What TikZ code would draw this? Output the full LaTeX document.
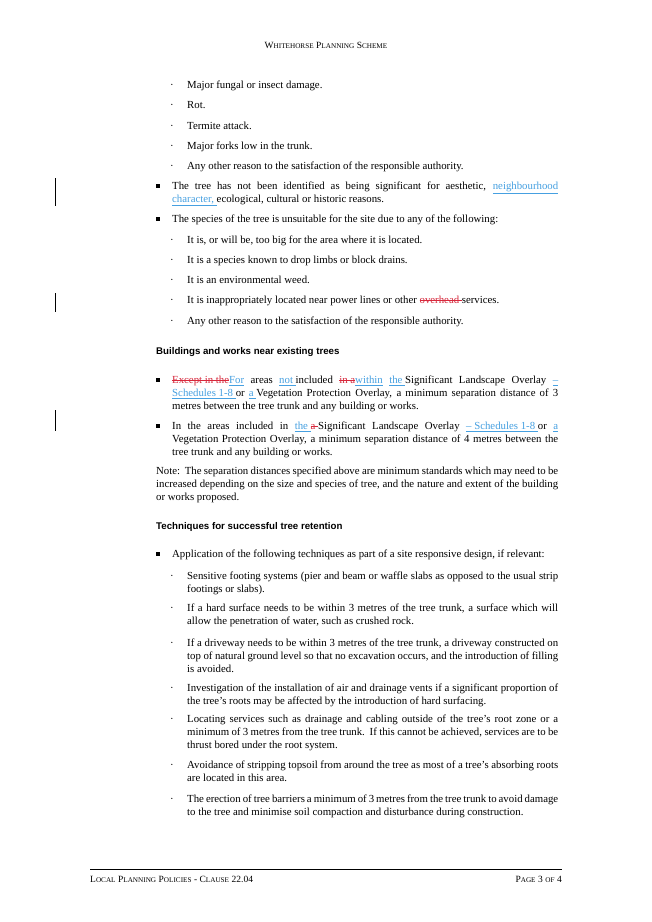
\documentclass[tikz,border=0pt]{standalone}
\usepackage{fontspec}
\setmainfont{Liberation Serif}
\newfontfamily\hsans{Liberation Sans}
\definecolor{ins}{RGB}{70,160,225}
\definecolor{del}{RGB}{215,40,60}
\newcommand{\ins}[1]{{\color{ins}\underline{#1}}}
\newcommand{\del}[1]{{\color{del}\setbox0\hbox{#1}\rlap{\rule[0.3em]{\wd0}{0.4pt}}\box0}}
\newcommand{\B}[1]{{\fontsize{9.5}{11}\selectfont #1}}
\newcommand{\s}[1]{{\fontsize{7.2}{11}\selectfont #1}}
\tikzset{
  para/.style={anchor=base west,inner sep=0pt,align=justify,font=\fontsize{10.8}{13}\selectfont},
  mainp/.style={para,text width=386pt},
  subp/.style={para,text width=371pt},
  notep/.style={para,text width=402pt},
  dot/.style={anchor=base,inner sep=0pt,font=\fontsize{10.8}{13}\selectfont},
  sq/.style={anchor=center,fill=black,minimum size=3.6pt,inner sep=0pt},
  head/.style={anchor=base west,inner sep=0pt,font=\hsans\bfseries\fontsize{9.7}{12}\selectfont},
  bar/.style={line width=0.7pt},
  hf/.style={inner sep=0pt}
}
\newcommand{\sub}[3]{\node[dot] (d#1) at (172,-#2-3.5) {·};\node[subp] (s#1) at (187,-#2-3.5) {#3};}
\newcommand{\mb}[3]{\node[sq] (q#1) at (158,-#2) {};\node[mainp] (m#1) at (172,-#2-3.5) {#3};}
\begin{document}
\begin{tikzpicture}[x=1pt,y=1pt]
\useasboundingbox[fill=white] (0,0) rectangle (652,-922);
\node[hf,anchor=base] (hdr) at (326,-48) {\B{W}\s{HITEHORSE} \B{P}\s{LANNING} \B{S}\s{CHEME}};
\sub{1}{85}{Major fungal or insect damage.}
\sub{2}{105}{Rot.}
\sub{3}{126}{Termite attack.}
\sub{4}{146}{Major forks low in the trunk.}
\sub{5}{166}{Any other reason to the satisfaction of the responsible authority.}
\mb{1}{186}{The tree has not been identified as being significant for aesthetic, \ins{neighbourhood}\linebreak\ins{character,\ }ecological, cultural or historic reasons.}
\mb{2}{219}{The species of the tree is unsuitable for the site due to any of the following:}
\sub{6}{240}{It is, or will be, too big for the area where it is located.}
\sub{7}{260}{It is a species known to drop limbs or block drains.}
\sub{8}{280}{It is an environmental weed.}
\sub{9}{300}{It is inappropriately located near power lines or other \del{overhead }services.}
\sub{10}{321}{Any other reason to the satisfaction of the responsible authority.}
\node[head] (h1) at (156,-351-3.5) {Buildings and works near existing trees};
\mb{3}{380}{\del{Except in the}\ins{For} areas \ins{not\ }included \del{in a}\ins{within} \ins{the\ }Significant Landscape Overlay \ins{–}\linebreak\ins{Schedules\ 1-8\ }or \ins{a\ }Vegetation Protection Overlay, a minimum separation distance of 3\linebreak metres between the tree trunk and any building or works.}
\mb{4}{426}{In the areas included in \ins{the\ }\del{a }Significant Landscape Overlay \ins{– Schedules 1-8\ }or \ins{a}\linebreak Vegetation Protection Overlay, a minimum separation distance of 4 metres between the tree trunk and any building or works.}
\node[notep] (note) at (156,-471-3.5) {Note:\ \ The separation distances specified above are minimum standards which may need to be increased depending on the size and species of tree, and the nature and extent of the building or works proposed.};
\node[head] (h2) at (156,-526-3.5) {Techniques for successful tree retention};
\mb{5}{554}{Application of the following techniques as part of a site responsive design, if relevant:}
\sub{11}{576}{Sensitive footing systems (pier and beam or waffle slabs as opposed to the usual strip footings or slabs).}
\sub{12}{608}{If a hard surface needs to be within 3 metres of the tree trunk, a surface which will allow the penetration of water, such as crushed rock.}
\sub{13}{643}{If a driveway needs to be within 3 metres of the tree trunk, a driveway constructed on top of natural ground level so that no excavation occurs, and the introduction of filling is avoided.}
\sub{14}{688}{Investigation of the installation of air and drainage vents if a significant proportion of the tree’s roots may be affected by the introduction of hard surfacing.}
\sub{15}{719}{Locating services such as drainage and cabling outside of the tree’s root zone or a minimum of 3 metres from the tree trunk.\ \ If this cannot be achieved, services are to be thrust bored under the root system.}
\sub{16}{765}{Avoidance of stripping topsoil from around the tree as most of a tree’s absorbing roots are located in this area.}
\sub{17}{799}{The erection of tree barriers a minimum of 3 metres from the tree trunk to avoid damage to the tree and minimise soil compaction and disturbance during construction.}
\coordinate (fl) at (90,-869);
\coordinate (fr) at (562,-869);
\draw[line width=0.4pt] (fl) -- (fr);
\node[hf,anchor=base west] (fleft) at (90,-882) {\B{L}\s{OCAL} \B{P}\s{LANNING} \B{P}\s{OLICIES} \B{- C}\s{LAUSE} \B{22.04}};
\node[hf,anchor=base east] (fright) at (562,-882) {\B{P}\s{AGE} \B{3} \s{OF} \B{4}};
\coordinate (b1a) at (55,-178); \coordinate (b1b) at (55,-206);
\coordinate (b2a) at (55,-293); \coordinate (b2b) at (55,-312);
\coordinate (b3a) at (55,-410); \coordinate (b3b) at (55,-431);
\draw[bar] (b1a) -- (b1b); \draw[bar] (b2a) -- (b2b); \draw[bar] (b3a) -- (b3b);
\end{tikzpicture}
\end{document}
